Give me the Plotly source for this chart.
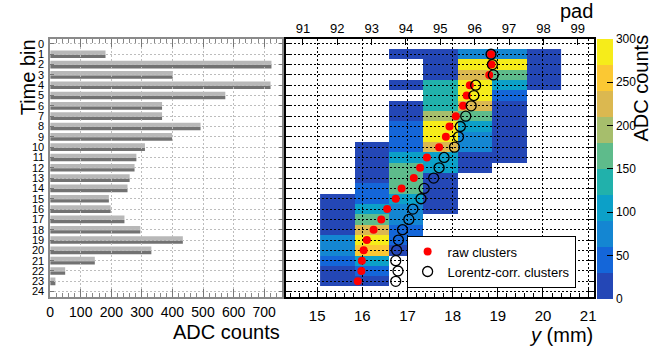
import plotly.graph_objects as go

# ---------------- data ----------------
time_bins = list(range(25))
bar_adc = [0, 181, 724, 401, 721, 573, 366, 366, 492, 399, 310, 282, 276,
           260, 253, 192, 198, 243, 295, 434, 331, 146, 49, 17, 0]

pads = [92, 93, 94, 95, 96, 97, 98]
N = None
adc_map = [
    [N, N, N, N, N, N, N],            # 0
    [N, N, 15, 15, 80, 80, 15],       # 1
    [N, N, N, 15, 290, 290, 15],      # 2
    [N, N, N, 15, 225, 165, 15],      # 3
    [N, N, 15, 135, 290, 105, 15],    # 4
    [N, N, N, 135, 290, 45, N],       # 5
    [N, N, 15, 135, 225, 15, N],      # 6
    [N, N, 15, 195, 165, 15, N],      # 7
    [N, N, 45, 290, 105, 15, N],      # 8
    [N, N, 45, 290, 75, 15, N],       # 9
    [N, 15, 45, 225, 75, 15, N],      # 10
    [N, 15, 105, 105, 15, 15, N],     # 11
    [N, 15, 165, 105, 15, N, N],      # 12
    [N, 15, 165, 15, N, N, N],        # 13
    [N, 45, 160, 15, N, N, N],        # 14
    [15, 45, 115, 15, N, N, N],       # 15
    [15, 105, 75, 15, N, N, N],       # 16
    [15, 165, 75, N, N, N, N],        # 17
    [15, 225, 45, N, N, N, N],        # 18
    [75, 290, 45, N, N, N, N],        # 19
    [70, 255, 15, N, N, N, N],        # 20
    [45, 105, N, N, N, N, N],         # 21
    [15, 45, N, N, N, N, N],          # 22
    [15, 15, N, N, N, N, N],          # 23
    [N, N, N, N, N, N, N],            # 24
]

cluster_bins = list(range(1, 24))
raw_y = [18.85, 18.86, 18.81, 18.38, 18.31, 18.23, 18.07, 17.93, 17.85, 17.70,
         17.43, 17.28, 17.14, 16.87, 16.74, 16.55, 16.42, 16.25, 16.10, 16.03,
         15.99, 15.98, 15.90]
corr_y = [18.85, 18.88, 18.90, 18.51, 18.47, 18.41, 18.29, 18.17, 18.13, 18.04,
          17.81, 17.70, 17.58, 17.37, 17.30, 17.12, 17.03, 16.89, 16.80, 16.76,
          16.74, 16.79, 16.74]

adc_ticks = [0, 100, 200, 300, 400, 500, 600, 700]
mm_ticks = [15, 16, 17, 18, 19, 20, 21]
pad_ticks = [91, 92, 93, 94, 95, 96, 97, 98, 99]
z_ticks = [0, 50, 100, 150, 200, 250, 300]

# ---------------- styling ----------------
W, H = 649, 349
FONT = "Liberation Sans, Arial, Helvetica, sans-serif"
band_colors = ["#2447b6", "#1466d9", "#1486d2", "#0ca0c8", "#21b1ab",
               "#5ebb8b", "#a6be6c", "#dbb850", "#fbc833", "#f6ec1a"]
colorscale = []
for i, c in enumerate(band_colors):
    colorscale.append([i / 10, c])
    colorscale.append([(i + 1) / 10, c])

def px_x(p):
    return p / W

def px_y(p):
    return 1 - p / H

dom_left = [px_x(46.7), px_x(281.5)]
dom_right = [px_x(285.5), px_x(596)]
dom_v = [px_y(297.5), px_y(38)]
yrange = [24.5, -0.5]
adc_range = [0, 760]
mm_range = [14.32, 21.12]
pad_range = [90.52, 99.46]
dots = "2px,2px"

fig = go.Figure()

# left panel bars (two-tone)
fig.add_trace(go.Bar(x=bar_adc, y=time_bins, orientation="h", xaxis="x", yaxis="y",
                     marker=dict(color="#b8b8b8", line=dict(width=0)),
                     width=0.42, offset=-0.37, showlegend=False, hoverinfo="skip"))
fig.add_trace(go.Bar(x=bar_adc, y=time_bins, orientation="h", xaxis="x", yaxis="y",
                     marker=dict(color="#727272", line=dict(width=0)),
                     width=0.32, offset=0.05, showlegend=False, hoverinfo="skip"))

# right panel heatmap on the pad axis
fig.add_trace(go.Heatmap(x=pads, y=time_bins, z=adc_map, xaxis="x2", yaxis="y2",
                         zmin=0, zmax=300, colorscale=colorscale, hoverongaps=False,
                         colorbar=dict(x=px_x(599), xanchor="left", y=px_y(38), yanchor="top",
                                       thickness=16, thicknessmode="pixels",
                                       len=260, lenmode="pixels", xpad=0, ypad=0,
                                       outlinewidth=0, tickvals=z_ticks, ticks="inside",
                                       ticklen=6, tickcolor="black",
                                       tickfont=dict(size=12, family=FONT, color="black"))))

# empty traces carrying the grid/frame overlay subplots
fig.add_trace(go.Scatter(x=[], y=[], xaxis="x3", yaxis="y3", showlegend=False, hoverinfo="skip"))
fig.add_trace(go.Scatter(x=[], y=[], xaxis="x4", yaxis="y4", showlegend=False, hoverinfo="skip"))

# clusters
fig.add_trace(go.Scatter(x=raw_y, y=cluster_bins, xaxis="x5", yaxis="y5", mode="markers",
                         name="raw clusters",
                         marker=dict(color="#ff0000", size=8, line=dict(width=0))))
fig.add_trace(go.Scatter(x=corr_y, y=cluster_bins, xaxis="x5", yaxis="y5", mode="markers",
                         name="Lorentz-corr. clusters",
                         marker=dict(symbol="circle-open", color="black", size=10,
                                     line=dict(width=1.3, color="black"))))

hidden = dict(visible=False, zeroline=False, showgrid=False)

fig.update_layout(
    width=W, height=H, margin=dict(l=0, r=0, t=0, b=0),
    paper_bgcolor="white", plot_bgcolor="rgba(0,0,0,0)",
    font=dict(family=FONT, color="black"),
    barmode="overlay",
    xaxis=dict(domain=dom_left, anchor="y", range=adc_range, **hidden),
    yaxis=dict(domain=dom_v, anchor="x", range=yrange, **hidden),
    xaxis2=dict(domain=dom_right, anchor="y2", side="top", range=pad_range,
                tickvals=pad_ticks, ticks="inside", ticklen=6, tickcolor="black",
                showgrid=False, zeroline=False, showline=False,
                tickfont=dict(size=13, family=FONT), ticklabelstandoff=2),
    yaxis2=dict(domain=dom_v, anchor="x2", range=yrange, **hidden),
    xaxis3=dict(domain=dom_left, anchor="y3", range=adc_range, tickvals=adc_ticks,
                ticks="inside", ticklen=8, tickcolor="#777777",
                minor=dict(dtick=20, ticks="inside", ticklen=4, tickcolor="#888888", showgrid=False),
                showgrid=True, gridcolor="#bdbdbd", gridwidth=1, griddash=dots,
                zeroline=False, showline=True, linecolor="#8a8a8a", linewidth=1.5,
                mirror="ticks", tickfont=dict(size=14, family=FONT), ticklabelstandoff=2),
    yaxis3=dict(domain=dom_v, anchor="x3", range=yrange, tickvals=time_bins,
                ticks="inside", ticklen=4, tickcolor="#777777",
                showgrid=True, gridcolor="#bdbdbd", gridwidth=1, griddash=dots,
                zeroline=False, showline=True, linecolor="#8a8a8a", linewidth=1.5,
                mirror="ticks", tickfont=dict(size=11, family=FONT), ticklabelstandoff=2),
    xaxis4=dict(domain=dom_right, anchor="y4", range=mm_range, tickvals=mm_ticks,
                ticks="inside", ticklen=8, tickcolor="black",
                minor=dict(dtick=0.2, ticks="inside", ticklen=4, tickcolor="black", showgrid=False),
                showgrid=True, gridcolor="black", gridwidth=1, griddash=dots,
                zeroline=False, showline=True, linecolor="black", linewidth=2, mirror=True,
                tickfont=dict(size=15, family=FONT), ticklabelstandoff=4),
    yaxis4=dict(domain=dom_v, anchor="x4", range=yrange, tickvals=time_bins,
                showticklabels=False, ticks="inside", ticklen=5, tickcolor="black",
                showgrid=True, gridcolor="black", gridwidth=1, griddash=dots,
                zeroline=False, showline=True, linecolor="black", linewidth=2, mirror="ticks"),
    xaxis5=dict(domain=dom_right, anchor="y5", range=mm_range, **hidden),
    yaxis5=dict(domain=dom_v, anchor="x5", range=yrange, **hidden),
    legend=dict(x=px_x(407), y=px_y(236), xanchor="left", yanchor="top",
                bgcolor="white", bordercolor="black", borderwidth=1,
                font=dict(size=13, family=FONT), tracegroupgap=0),
    annotations=[
        dict(text="Time bin", x=px_x(24), y=px_y(77), xref="paper", yref="paper",
             xanchor="center", yanchor="middle",
             textangle=-90, showarrow=False, font=dict(size=20, family=FONT)),
        dict(text="ADC counts", x=px_x(281), y=px_y(333), xref="paper", yref="paper",
             xanchor="right", yanchor="middle", showarrow=False, font=dict(size=20, family=FONT)),
        dict(text="<i>y</i> (mm)", x=px_x(597), y=px_y(336), xref="paper", yref="paper",
             xanchor="right", yanchor="middle", showarrow=False, font=dict(size=20, family=FONT)),
        dict(text="pad", x=px_x(597), y=px_y(10), xref="paper", yref="paper",
             xanchor="right", yanchor="middle", showarrow=False, font=dict(size=20, family=FONT)),
        dict(text="ADC counts", x=px_x(644), y=px_y(88), xref="paper", yref="paper",
             textangle=-90, xanchor="center", yanchor="middle", showarrow=False,
             font=dict(size=20, family=FONT)),
    ],
)

fig.write_html("out.html", config={"displayModeBar": False},
               post_script="document.body.style.margin='0';")
